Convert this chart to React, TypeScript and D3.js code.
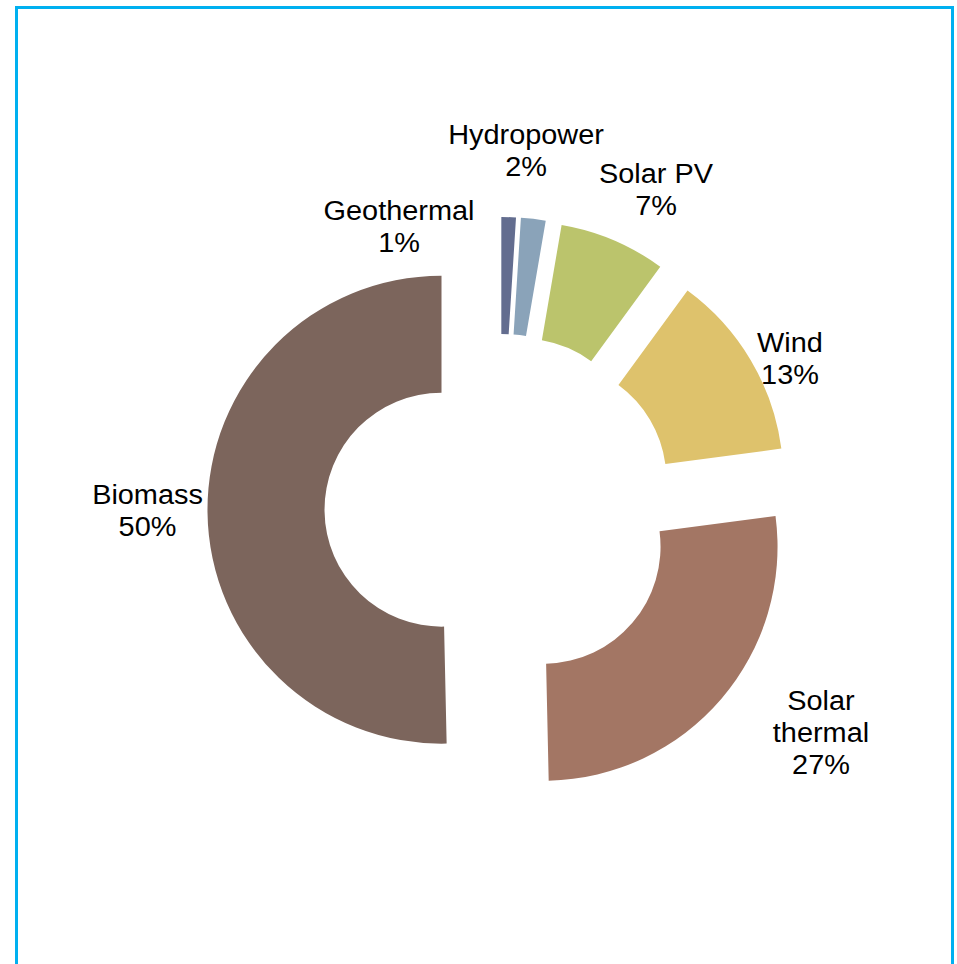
import React from "react";
import * as d3 from "d3";

const categories = ["Geothermal", "Hydropower", "Solar PV", "Wind", "Solar thermal", "Biomass"];
const shares = [1.0, 1.7, 7.35, 12.85, 26.75, 50.35];
const colors = ["#636d8f", "#8aa3b9", "#bbc46c", "#dec26c", "#a37664", "#7c655c"];
const labelLines = [["Geothermal"], ["Hydropower"], ["Solar PV"], ["Wind"], ["Solar", "thermal"], ["Biomass"]];
const labelPos: [number, number][] = [
  [399, 219.5],
  [526, 143.5],
  [656, 183],
  [790, 352],
  [821, 710],
  [147.5, 503.5],
];

const W = 957;
const H = 964;
const CX = 499.5;
const CY = 509;
const R_OUT = 234;
const R_IN = 117;
const EXPLODE = 58;
const LINE = 32;

export default function App() {
  const pie = d3
    .pie<number>()
    .sort(null)
    .value((d) => d)
    .startAngle(0)
    .endAngle(2 * Math.PI);
  const arcs = pie(shares);
  const arc = d3.arc<d3.PieArcDatum<number>>().innerRadius(R_IN).outerRadius(R_OUT);

  return (
    <svg
      width={W}
      height={H}
      style={{ position: "absolute", left: 0, top: 0 }}
      fontFamily="'Liberation Sans', Arial, sans-serif"
    >
      <rect x={0} y={0} width={W} height={H} fill="#ffffff" />
      <rect x={16.5} y={7.5} width={936} height={1000} fill="none" stroke="#00b0f0" strokeWidth={3} />
      <g transform={`translate(${CX},${CY})`}>
        {arcs.map((a, i) => {
          const mid = (a.startAngle + a.endAngle) / 2;
          const dx = Math.sin(mid) * EXPLODE;
          const dy = -Math.cos(mid) * EXPLODE;
          return (
            <path key={i} d={arc(a) || ""} fill={colors[i]} transform={`translate(${dx},${dy})`} />
          );
        })}
      </g>
      {categories.map((c, i) => {
        const lines = [...labelLines[i], `${Math.round(shares[i])}%`];
        const [x, y] = labelPos[i];
        return (
          <g key={c}>
            {lines.map((t, j) => (
              <g key={j} transform={`translate(${x},${y + j * LINE}) scale(1.07,1)`}>
                <text textAnchor="middle" fontSize={27} fill="#000">
                  {t}
                </text>
              </g>
            ))}
          </g>
        );
      })}
    </svg>
  );
}
